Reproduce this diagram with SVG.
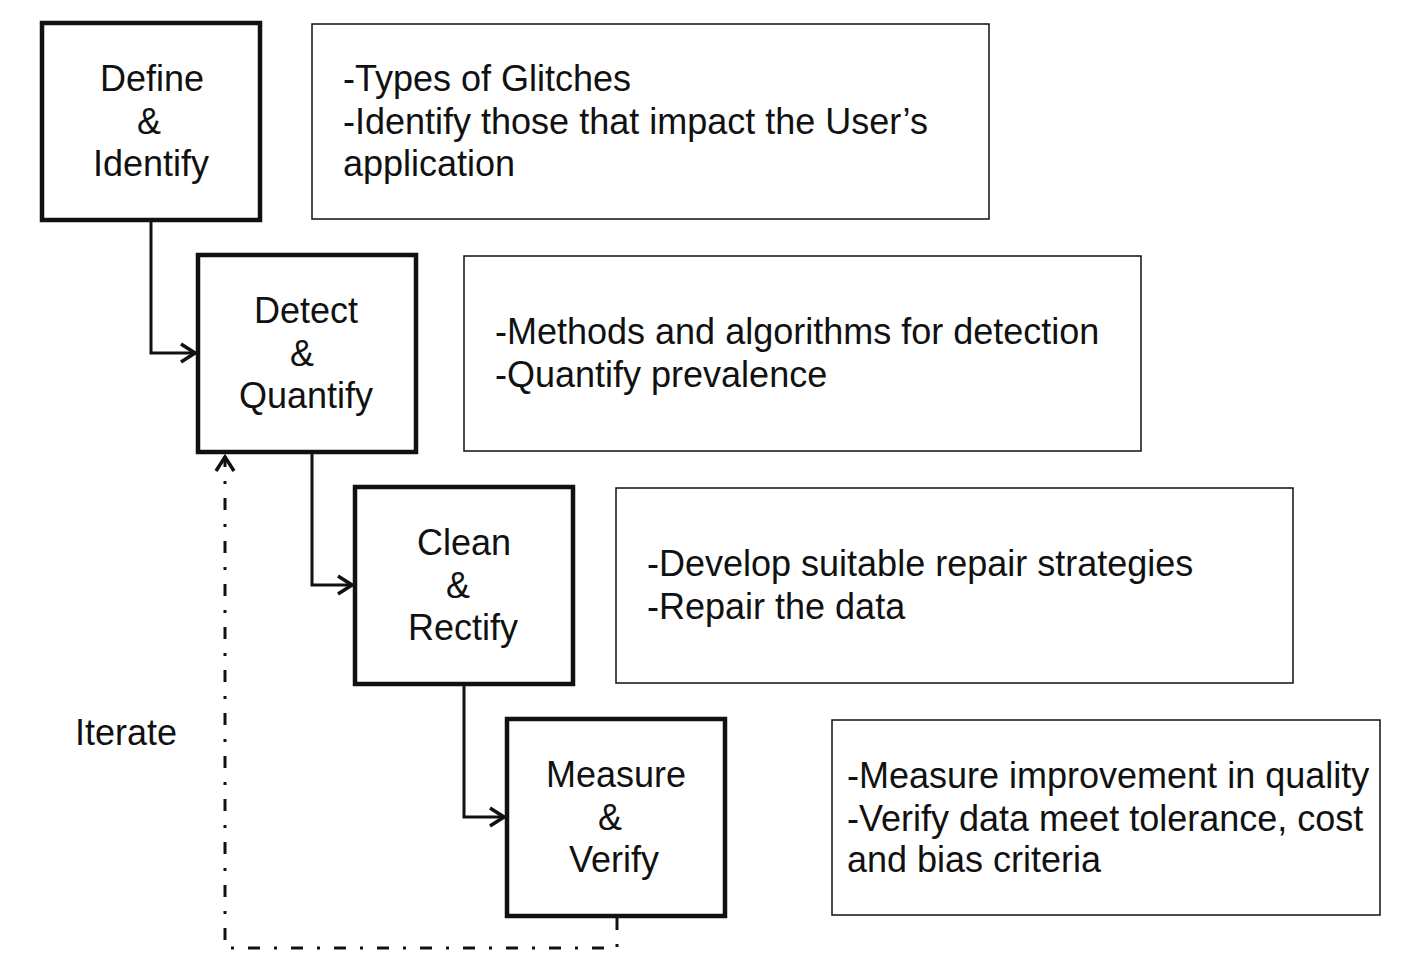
<svg xmlns="http://www.w3.org/2000/svg" width="1422" height="976" viewBox="0 0 1422 976">
<defs>
<style>
.step{fill:#fff;stroke:#111;stroke-width:4.5}
.desc{fill:#fff;stroke:#111;stroke-width:1.5}
text{font-family:"Liberation Sans",Arial,sans-serif;font-size:36px;fill:#111}
.c{text-anchor:middle}
.conn{fill:none;stroke:#111;stroke-width:3}
.dd{fill:none;stroke:#111;stroke-width:3;stroke-dasharray:12 14 3 14}
</style>
<marker id="arr" viewBox="0 0 20 24" refX="18" refY="12" markerWidth="20" markerHeight="24" markerUnits="userSpaceOnUse" orient="auto">
<path d="M3,3 L17,12 L3,21" fill="none" stroke="#111" stroke-width="3.5"/>
</marker>
</defs>
<g id="connectors">
<path class="conn" d="M151,222 V353 H196" marker-end="url(#arr)"/>
<path class="conn" d="M312,454 V585 H353" marker-end="url(#arr)"/>
<path class="conn" d="M464,686 V817 H505" marker-end="url(#arr)"/>
<path class="dd" d="M617,918 V948 H225 V456" marker-end="url(#arr)"/>
</g>
<g id="n1">
<rect class="step" x="42" y="23" width="218" height="197"/>
<text class="c" x="152" y="91">Define</text>
<text class="c" x="149" y="134">&amp;</text>
<text class="c" x="151" y="176">Identify</text>
</g>
<g id="d1">
<rect class="desc" x="312" y="24" width="677" height="195"/>
<text x="343" y="91">-Types of Glitches</text>
<text x="343" y="134">-Identify those that impact the User’s</text>
<text x="343" y="176">application</text>
</g>
<g id="n2">
<rect class="step" x="198" y="255" width="218" height="197"/>
<text class="c" x="306" y="323">Detect</text>
<text class="c" x="302" y="366">&amp;</text>
<text class="c" x="306" y="408">Quantify</text>
</g>
<g id="d2">
<rect class="desc" x="464" y="256" width="677" height="195"/>
<text x="495" y="344">-Methods and algorithms for detection</text>
<text x="495" y="387">-Quantify prevalence</text>
</g>
<g id="n3">
<rect class="step" x="355" y="487" width="218" height="197"/>
<text class="c" x="464" y="555">Clean</text>
<text class="c" x="458" y="598">&amp;</text>
<text class="c" x="463" y="640">Rectify</text>
</g>
<g id="d3">
<rect class="desc" x="616" y="488" width="677" height="195"/>
<text x="647" y="576">-Develop suitable repair strategies</text>
<text x="647" y="619">-Repair the data</text>
</g>
<g id="n4">
<rect class="step" x="507" y="719" width="218" height="197"/>
<text class="c" x="616" y="787">Measure</text>
<text class="c" x="610" y="830">&amp;</text>
<text class="c" x="614" y="872">Verify</text>
</g>
<g id="d4">
<rect class="desc" x="832" y="720" width="548" height="195"/>
<text x="847" y="788">-Measure improvement in quality</text>
<text x="847" y="831">-Verify data meet tolerance, cost</text>
<text x="847" y="872">and bias criteria</text>
</g>
<g id="iterate">
<text x="75" y="745">Iterate</text>
</g>
</svg>
